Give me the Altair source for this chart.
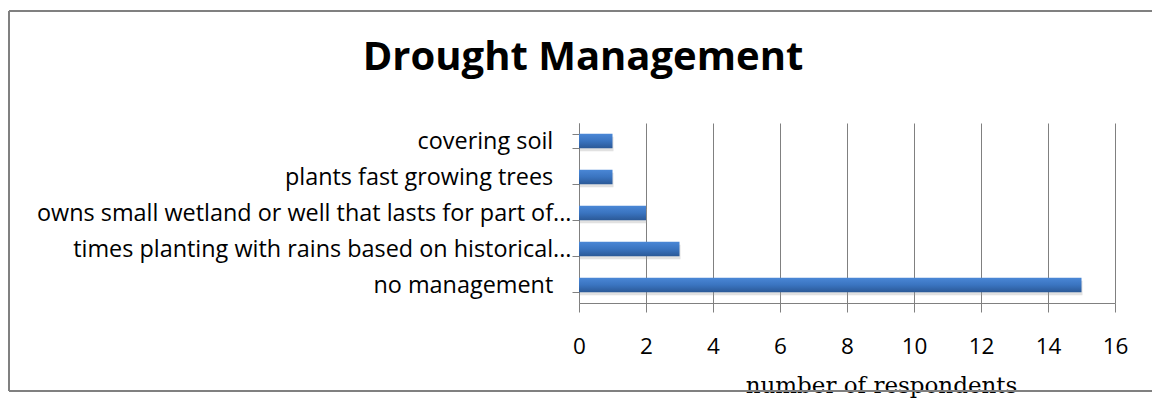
import altair as alt
import pandas as pd

# Survey responses: drought management practices
practices = [
    "covering soil",
    "plants fast growing trees",
    "owns small wetland or well that lasts for part of...",
    "times planting with rains based on historical...",
    "no management",
]
respondents = [1, 1, 2, 3, 15]
x_ticks = [0, 2, 4, 6, 8, 10, 12, 14, 16]

df = pd.DataFrame({"practice": practices, "count": respondents})
frame_df = pd.DataFrame({"k": [0]})

PLOT_W, PLOT_H = 536, 180
LEFT, TOP = 579, 123
GRAY = "#808080"
SANS = "Open Sans"

bar_fill = alt.Gradient(
    gradient="linear",
    stops=[
        alt.GradientStop(color="#4a87d6", offset=0),
        alt.GradientStop(color="#3a74c0", offset=0.5),
        alt.GradientStop(color="#2b5997", offset=1),
    ],
    x1=0, x2=0, y1=0, y2=1,
)

# short (untruncated) category names keep a little trailing space before the axis;
# the word joiner stops the spaces from being dropped at the end of the text
pad = "\u00a0\u00a0\u00a0\u2060"

y_enc = alt.Y(
    "practice:N",
    sort=practices,
    scale=alt.Scale(paddingInner=0.6, paddingOuter=0.3),
    axis=alt.Axis(
        title=None,
        tickBand="extent",
        tickSize=7,
        tickColor=GRAY,
        domainColor=GRAY,
        labelPadding=1,
        labelLimit=700,
        labelFont=SANS,
        labelFontSize=23.4,
        labelColor="#000000",
        labelExpr=f"indexof(datum.label, '...') >= 0 ? datum.label : datum.label + '{pad}'",
    ),
)

x_enc = alt.X(
    "count:Q",
    scale=alt.Scale(domain=[0, 16], nice=False),
    axis=alt.Axis(
        values=x_ticks,
        grid=True,
        gridColor=GRAY,
        gridWidth=1,
        tickSize=9,
        tickColor=GRAY,
        domainColor=GRAY,
        labelFlush=False,
        labelFont=SANS,
        labelFontSize=22.5,
        labelColor="#000000",
        labelBaseline="alphabetic",
        labelPadding=41,
        title="number of respondents",
        titleFont="DejaVu Serif",
        titleFontSize=23,
        titleFontWeight="normal",
        titleColor="#000000",
        titleX=302,
        titleY=89,
        titleAlign="center",
        titleBaseline="alphabetic",
    ),
)

shadow = alt.Chart(df).mark_bar(color="#9a9a9a", opacity=0.3, xOffset=1, yOffset=3).encode(
    x=alt.X("count:Q", scale=alt.Scale(domain=[0, 16], nice=False)),
    y=alt.Y("practice:N", sort=practices),
)

bars = alt.Chart(df).mark_bar(color=bar_fill).encode(x=x_enc, y=y_enc)

# outer chart border: left, top and bottom edges
border = alt.Chart(frame_df).mark_rule(color=GRAY, strokeWidth=2)
left_edge = border.encode(x=alt.value(9 - LEFT), y=alt.value(11 - TOP), y2=alt.value(391 - TOP))
top_edge = border.encode(x=alt.value(9 - LEFT), x2=alt.value(1152 - LEFT), y=alt.value(11 - TOP))
bottom_edge = border.encode(x=alt.value(9 - LEFT), x2=alt.value(1152 - LEFT), y=alt.value(391 - TOP))

chart = (
    alt.layer(shadow, bars, left_edge, top_edge, bottom_edge)
    .properties(
        width=PLOT_W,
        height=PLOT_H,
        padding={"left": LEFT, "top": TOP, "right": 1152 - LEFT - PLOT_W, "bottom": 398 - TOP - PLOT_H},
        autosize=alt.AutoSizeParams(type="none"),
        background="#ffffff",
        title=alt.TitleParams(
            "Drought Management",
            font=SANS,
            fontSize=40,
            fontWeight="bold",
            color="#000000",
            anchor="middle",
            frame="group",
            baseline="alphabetic",
            offset=-100,
            dx=583 - (LEFT + PLOT_W / 2),
        ),
    )
    .configure_view(strokeOpacity=0)
)

chart.save("out.html", embed_options={"renderer": "svg", "actions": False})
